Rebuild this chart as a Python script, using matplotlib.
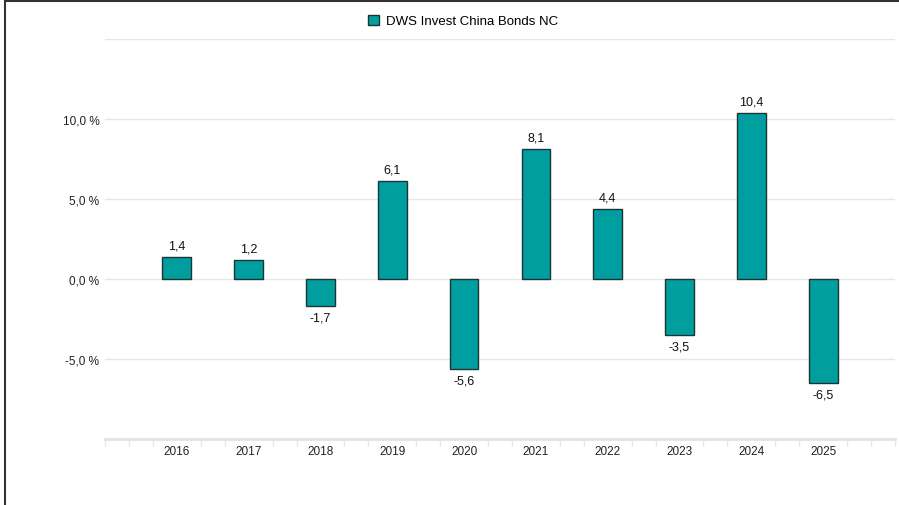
import matplotlib
matplotlib.use("Agg")
import matplotlib.pyplot as plt
from matplotlib.lines import Line2D
from matplotlib.ticker import MultipleLocator

plt.rcParams["font.family"] = ["Liberation Sans", "DejaVu Sans"]

years = ["2016", "2017", "2018", "2019", "2020", "2021", "2022", "2023", "2024", "2025"]
returns = [1.4, 1.2, -1.7, 6.1, -5.6, 8.1, 4.4, -3.5, 10.4, -6.5]
series_name = "DWS Invest China Bonds NC"
y_ticks = [-5, 0, 5, 10]

BAR = "#009E9E"
EDGE = "#1C3434"

fig = plt.figure(figsize=(8.99, 5.06), dpi=100)
ax = fig.add_axes([105 / 899, 1 - 440 / 506, 790 / 899, 400 / 506])

x = list(range(len(years)))
ax.bar(x, returns, width=0.4, color=BAR, edgecolor=EDGE, linewidth=1.0, zorder=3)

for xi, v in zip(x, returns):
    lbl = f"{v:.1f}".replace(".", ",")
    if v >= 0:
        ax.annotate(lbl, (xi, v), xytext=(0, 4), textcoords="offset points",
                    ha="center", va="bottom", fontsize=9, color="#111111")
    else:
        ax.annotate(lbl, (xi, v), xytext=(0, -4), textcoords="offset points",
                    ha="center", va="top", fontsize=9, color="#111111")

ax.set_xlim(-1, len(years))
ax.set_ylim(-10, 15)

# gridlines
for g in [-5, 0, 5, 10, 15]:
    ax.axhline(g, color="#E6E6E6", linewidth=1.0, zorder=1)

ax.set_yticks(y_ticks)
ax.set_yticklabels([f"{t:.1f} %".replace(".", ",") for t in y_ticks])
ax.tick_params(axis="y", length=0, labelsize=8.5, colors="#222222", pad=4)

ax.set_xticks(x)
ax.set_xticklabels(years)
ax.tick_params(axis="x", length=0, labelsize=8.5, colors="#222222", pad=4)
ax.xaxis.set_minor_locator(MultipleLocator(1 / 3))
ax.tick_params(axis="x", which="minor", length=5, width=1.0, color="#E6E6E6")

for s in ["top", "right", "left"]:
    ax.spines[s].set_visible(False)
ax.spines["bottom"].set_color("#E3E3E3")
ax.spines["bottom"].set_linewidth(2.0)

# legend
handle = plt.Rectangle((0, 0), 1, 1, facecolor=BAR, edgecolor=EDGE, linewidth=1.0)
fig.legend([handle], [series_name], loc="center", bbox_to_anchor=(463 / 899, 1 - 22 / 506),
           frameon=False, fontsize=9.5, handlelength=0.8, handleheight=0.8, handletextpad=0.5)

# outer frame (top + left)
fig.add_artist(Line2D([5 / 899, 1], [1 - 2 / 506, 1 - 2 / 506], color="#333333", linewidth=1.5,
                      transform=fig.transFigure))
fig.add_artist(Line2D([5 / 899, 5 / 899], [0, 1 - 2 / 506], color="#333333", linewidth=1.5,
                      transform=fig.transFigure))

fig.savefig("out.png", dpi=100)
plt.close(fig)
